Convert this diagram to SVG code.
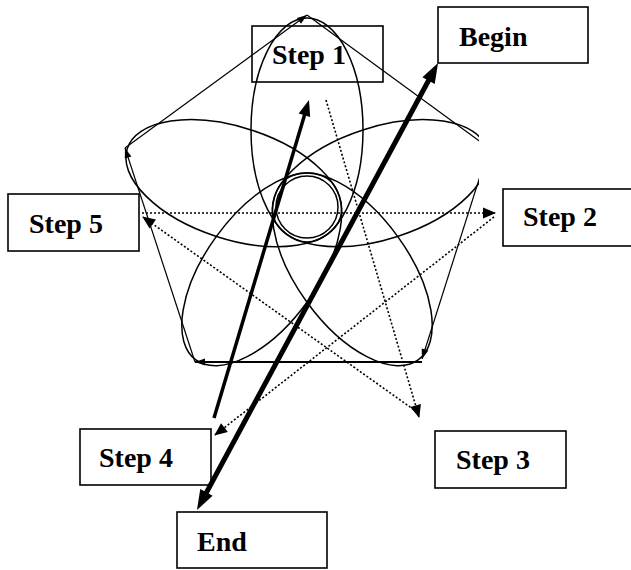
<svg xmlns="http://www.w3.org/2000/svg" width="631" height="570" viewBox="0 0 631 570">
<style>
.box{fill:none;stroke:#000;stroke-width:1.6}
.lbl{font-family:"Liberation Serif","Times New Roman",serif;font-weight:bold;font-size:28px;fill:#000}
.petal{fill:none;stroke:#000;stroke-width:1.5}
.edge{stroke:#000;stroke-width:1.2;fill:none;marker-end:url(#small)}
.dot{stroke:#000;stroke-width:1.6;stroke-dasharray:2 2;fill:none;marker-end:url(#dotHead)}
</style>
<defs>
<marker id="small" markerUnits="userSpaceOnUse" markerWidth="10" markerHeight="7" refX="10" refY="3.5" orient="auto" overflow="visible"><path d="M0,0 L10,3.5 L0,7 z" fill="#000"/></marker>
<marker id="dotHead" markerUnits="userSpaceOnUse" markerWidth="13" markerHeight="11" refX="12" refY="5.5" orient="auto" overflow="visible"><path d="M0,0 L13,5.5 L0,11 z" fill="#000"/></marker>
<marker id="bigHead" markerUnits="userSpaceOnUse" markerWidth="20" markerHeight="14" refX="2" refY="7" orient="auto-start-reverse" overflow="visible"><path d="M0,0 L20,7 L0,14 z" fill="#000"/></marker>
<marker id="midHead" markerUnits="userSpaceOnUse" markerWidth="16" markerHeight="12" refX="2" refY="6" orient="auto" overflow="visible"><path d="M0,0 L16,6 L0,12 z" fill="#000"/></marker>
<clipPath id="clipR"><rect x="0" y="0" width="479" height="570"/></clipPath>
</defs>
<g id="flower" clip-path="url(#clipR)">
<ellipse class="petal" cx="307" cy="130" rx="56" ry="112"/>
<ellipse class="petal" cx="233.8" cy="183.2" rx="112" ry="56" transform="rotate(18 233.8 183.2)"/>
<ellipse class="petal" cx="380.2" cy="183.2" rx="112" ry="56" transform="rotate(-18 380.2 183.2)"/>
<ellipse class="petal" cx="261.7" cy="269.3" rx="112" ry="56" transform="rotate(-54 261.7 269.3)"/>
<ellipse class="petal" cx="352.3" cy="269.3" rx="112" ry="56" transform="rotate(54 352.3 269.3)"/>
<circle class="petal" cx="307" cy="207" r="31"/>
<g id="pentagon">
<line class="edge" x1="307" y1="15" x2="489" y2="148"/>
<line class="edge" x1="489" y1="148" x2="422" y2="359"/>
<line class="edge" x1="422" y1="362" x2="195" y2="362" style="stroke-width:2"/>
<line class="edge" x1="195" y1="362" x2="125" y2="148"/>
<line class="edge" x1="125" y1="148" x2="307" y2="15"/>
</g>
</g>
<g id="nodes">
<g id="step1"><rect class="box" x="252" y="26" width="131" height="56"/><text class="lbl" x="272" y="64">Step 1</text></g>
<g id="begin"><rect class="box" x="438" y="7" width="150" height="56"/><text class="lbl" x="459" y="46">Begin</text></g>
<g id="step5"><rect class="box" x="8" y="194" width="131" height="57"/><text class="lbl" x="29" y="233">Step 5</text></g>
<g id="step2"><rect class="box" x="503" y="189" width="140" height="57"/><text class="lbl" x="523" y="226">Step 2</text></g>
<g id="step4"><rect class="box" x="80" y="429" width="131" height="56"/><text class="lbl" x="99" y="467">Step 4</text></g>
<g id="end"><rect class="box" x="177" y="512" width="150" height="56"/><text class="lbl" x="197" y="551">End</text></g>
<g id="step3"><rect class="box" x="435" y="431" width="131" height="57"/><text class="lbl" x="456" y="469">Step 3</text></g>
</g>
<g id="connectors">
<line class="dot" x1="326" y1="100" x2="419" y2="417"/>
<line class="dot" x1="417" y1="412" x2="143" y2="217"/>
<line class="dot" x1="142" y1="213" x2="495" y2="213"/>
<line class="dot" x1="494" y1="217" x2="215" y2="435"/>
<line x1="214" y1="418" x2="305" y2="113.4" stroke="#000" stroke-width="3.5" marker-end="url(#midHead)"/>
<line x1="205.5" y1="494.2" x2="429.5" y2="78.8" stroke="#000" stroke-width="5" marker-start="url(#bigHead)" marker-end="url(#bigHead)"/>
</g>
</svg>
